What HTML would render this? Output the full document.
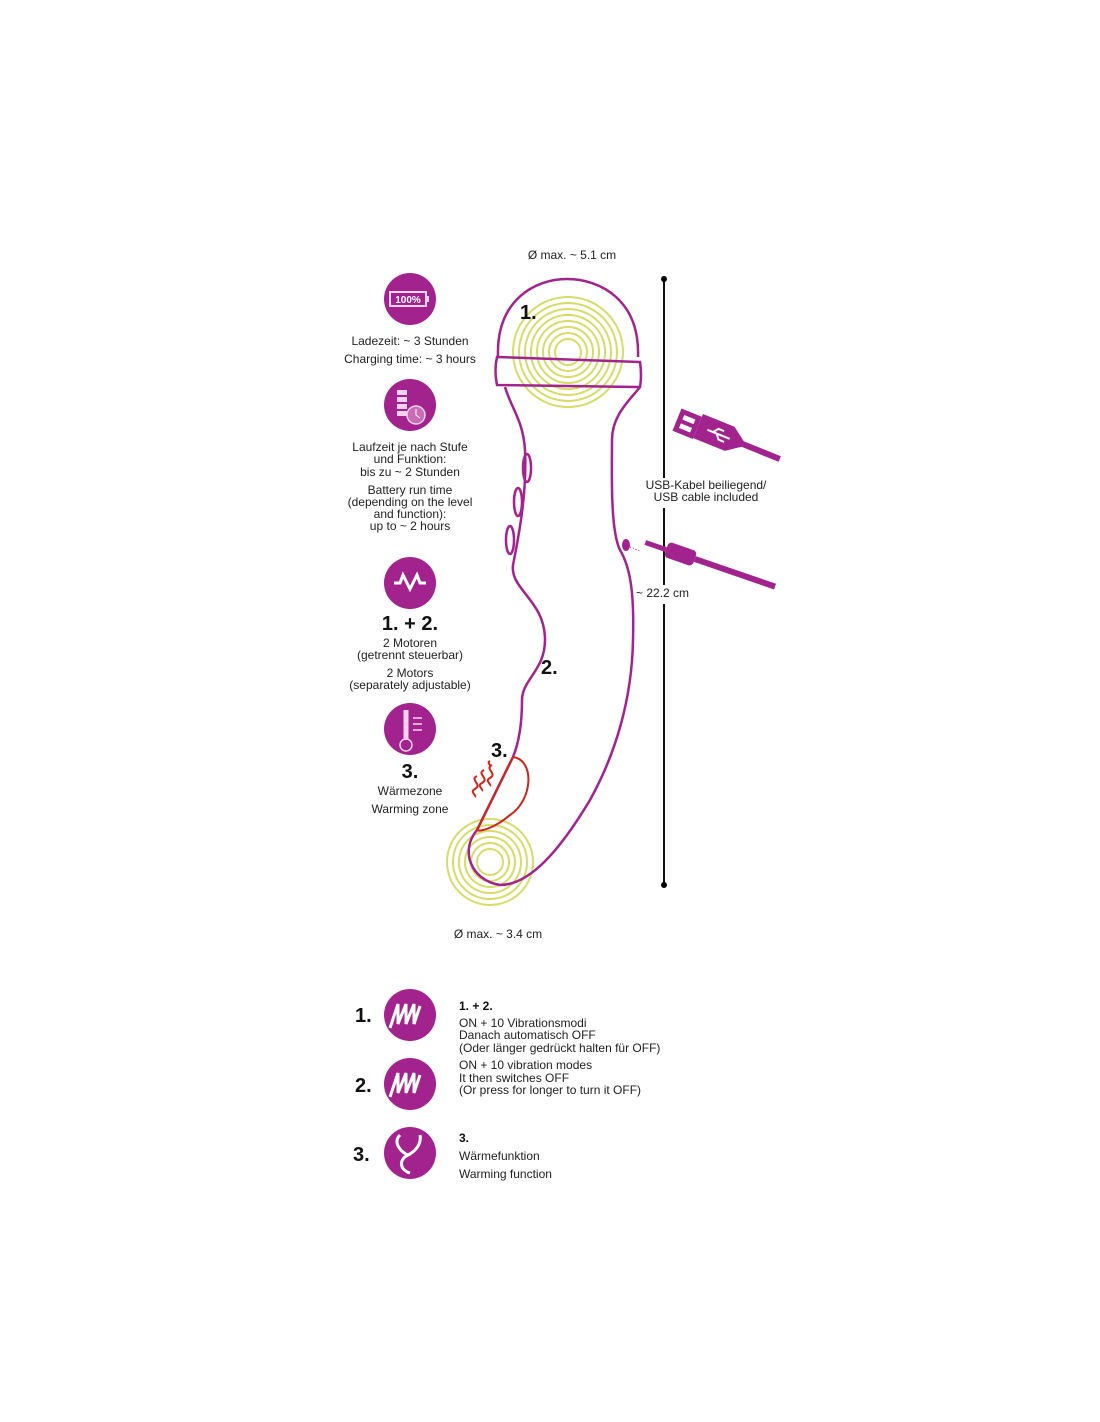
<!DOCTYPE html>
<html><head><meta charset="utf-8"><style>
body{margin:0;background:#fff;}
svg{display:block;font-family:"Liberation Sans",sans-serif;}
.t{font-size:12px;fill:#222;text-anchor:middle}
.tl{font-size:12px;fill:#222}
.b{font-weight:bold;fill:#111}
.big{font-size:20px !important}
</style></head><body>
<svg width="1100" height="1422" viewBox="0 0 1100 1422">
<!-- left icons -->
<g fill="#a3238e">
<circle cx="410" cy="299" r="26"/><circle cx="410" cy="405" r="26"/>
<circle cx="410" cy="583" r="26"/><circle cx="410" cy="729" r="26"/>
<circle cx="410" cy="1015" r="26"/><circle cx="410" cy="1084" r="26"/><circle cx="410" cy="1153" r="26"/>
</g>
<rect x="390" y="292" width="36" height="14" fill="none" stroke="#f6d3ec" stroke-width="2"/>
<rect x="426" y="296" width="3" height="6" fill="#f6d3ec"/>
<text x="408" y="303" style="font-size:10px" font-weight="bold" fill="#fff" text-anchor="middle">100%</text>
<g fill="#f6d3ec"><rect x="397" y="390" width="10" height="5"/><rect x="397" y="397" width="10" height="5"/><rect x="397" y="404" width="10" height="5"/><rect x="397" y="411" width="10" height="5"/></g>
<circle cx="416" cy="415" r="9" fill="#c96bb6" stroke="#f6d3ec" stroke-width="1.5"/>
<path d="M416 409v6l4 3" stroke="#fff" fill="none"/>
<path d="M394 583h6l3-8 7 14 7-14 3 8h6" stroke="#fff" stroke-width="3" fill="none"/>
<path d="M406 710v30" stroke="#f6d3ec" stroke-width="5"/><circle cx="406" cy="745" r="6" fill="none" stroke="#f6d3ec" stroke-width="1.5"/>
<path d="M413 718h9M413 724h9M413 730h9" stroke="#f6d3ec" stroke-width="1.5"/>
<g stroke="#fff" stroke-width="3" fill="none">
<path d="M390 1028l8-24v20l8-20v20l8-20v20l6-18"/>
<path d="M390 1097l8-24v20l8-20v20l8-20v20l6-18"/>
<path d="M400 1135c-8 8 2 18 8 20c-10 5-8 15 2 18M408 1155c6-3 14-10 12-20"/>
</g>
<!-- left texts -->
<text class="t" x="410" y="345">Ladezeit: ~ 3 Stunden</text>
<text class="t" x="410" y="363">Charging time: ~ 3 hours</text>
<text class="t" x="410" y="451">Laufzeit je nach Stufe</text>
<text class="t" x="410" y="463">und Funktion:</text>
<text class="t" x="410" y="476">bis zu ~ 2 Stunden</text>
<text class="t" x="410" y="494">Battery run time</text>
<text class="t" x="410" y="506">(depending on the level</text>
<text class="t" x="410" y="518">and function):</text>
<text class="t" x="410" y="530">up to ~ 2 hours</text>
<text class="t b big" x="410" y="630">1. + 2.</text>
<text class="t" x="410" y="647">2 Motoren</text>
<text class="t" x="410" y="659">(getrennt steuerbar)</text>
<text class="t" x="410" y="677">2 Motors</text>
<text class="t" x="410" y="689">(separately adjustable)</text>
<text class="t b big" x="410" y="778">3.</text>
<text class="t" x="410" y="795">Wärmezone</text>
<text class="t" x="410" y="813">Warming zone</text>
<!-- top/bottom dims -->
<text class="t" x="572" y="259">Ø max. ~ 5.1 cm</text>
<text class="t" x="498" y="938">Ø max. ~ 3.4 cm</text>
<!-- rings -->
<g fill="none" stroke="#d6dc68" stroke-width="2">
<circle cx="568" cy="352" r="55"/><circle cx="568" cy="352" r="49"/><circle cx="568" cy="352" r="43"/><circle cx="568" cy="352" r="37"/><circle cx="568" cy="352" r="31"/><circle cx="568" cy="352" r="25"/><circle cx="568" cy="352" r="19"/><circle cx="568" cy="352" r="13"/>
<circle cx="490" cy="862" r="43"/><circle cx="490" cy="862" r="37"/><circle cx="490" cy="862" r="31"/><circle cx="490" cy="862" r="25"/><circle cx="490" cy="862" r="19"/><circle cx="490" cy="862" r="13"/>
</g>
<!-- device outline -->
<g fill="none" stroke="#a3238e" stroke-width="2.5">
<path d="M498 357C496 300 535 279 567 279C600 279 640 300 638 357"/>
<path d="M497 357L640 362Q642 375 640 387L497 385Q494 370 497 357Z"/>
<path d="M505 387C512 410 523 420 525 450C527 490 520 530 513 565C510 590 545 600 545 640C545 670 522 680 522 700C522 720 520 740 513 757L477 830C460 850 470 880 500 885C530 885 560 850 590 800C615 755 632 700 633 640C634 600 632 570 620 550C610 530 612 470 612 440C612 415 630 400 640 387"/>
<ellipse cx="527" cy="468" rx="4" ry="14"/><ellipse cx="518" cy="502" rx="4" ry="14"/><ellipse cx="510" cy="540" rx="4" ry="14"/>
</g>
<g fill="none" stroke="#d0231a" stroke-width="2">
<path d="M513 757C535 760 533 800 510 815C495 828 480 832 477 830"/>
<path d="M513 757L477 830"/>
<path d="M492 765c-8 4 6 8-2 13c-6 3 2 6 0 8M484 770c-8 4 6 8-2 13c-6 3 2 6 0 8M477 776c-8 4 6 8-2 13c-6 3 2 6 0 8M490 761c-4 2 2 4 0 6"/>
</g>
<text class="tl b big" x="520" y="319">1.</text>
<text class="tl b big" x="541" y="674">2.</text>
<text class="tl b big" x="491" y="757">3.</text>
<!-- length dim -->
<g stroke="#111" stroke-width="2"><path d="M664 279V478M664 508V585M664 604V885"/></g>
<circle cx="664" cy="279" r="3"/><circle cx="664" cy="885" r="3"/>
<text class="t" x="706" y="489">USB-Kabel beiliegend/</text>
<text class="t" x="706" y="501">USB cable included</text>
<text class="tl" x="636" y="597">~ 22.2 cm</text>
<!-- usb -->
<g transform="rotate(22 715 435)">
<rect x="674" y="423" width="22" height="24" fill="#a3238e"/>
<rect x="679" y="428" width="12" height="5" fill="#fff"/><rect x="679" y="437" width="12" height="5" fill="#fff"/>
<path d="M696 420h34l14 10h40v6h-40l-14 10h-34z" fill="#a3238e"/>
<path d="M706 433h24M712 433l4-5h6M716 433l4 5h6" stroke="#fff" stroke-width="2" fill="none"/>
</g>
<ellipse cx="626" cy="545" rx="4" ry="6" fill="#a3238e"/>
<path d="M630 547L640 551" stroke="#a3238e" stroke-dasharray="1 2"/>
<g transform="rotate(19 700 565)"><rect x="641" y="559" width="22" height="5" fill="#a3238e"/><rect x="663" y="553" width="30" height="16" rx="4" fill="#a3238e"/><rect x="693" y="558" width="85" height="6" fill="#a3238e"/></g>
<!-- bottom -->
<text class="tl b big" x="355" y="1022">1.</text>
<text class="tl b big" x="355" y="1092">2.</text>
<text class="tl b big" x="353" y="1161">3.</text>
<text class="tl b" x="459" y="1010">1. + 2.</text>
<text class="tl" x="459" y="1027">ON + 10 Vibrationsmodi</text>
<text class="tl" x="459" y="1039">Danach automatisch OFF</text>
<text class="tl" x="459" y="1052">(Oder länger gedrückt halten für OFF)</text>
<text class="tl" x="459" y="1069">ON + 10 vibration modes</text>
<text class="tl" x="459" y="1082">It then switches OFF</text>
<text class="tl" x="459" y="1094">(Or press for longer to turn it OFF)</text>
<text class="tl b" x="459" y="1142">3.</text>
<text class="tl" x="459" y="1160">Wärmefunktion</text>
<text class="tl" x="459" y="1178">Warming function</text>
</svg>
</body></html>
